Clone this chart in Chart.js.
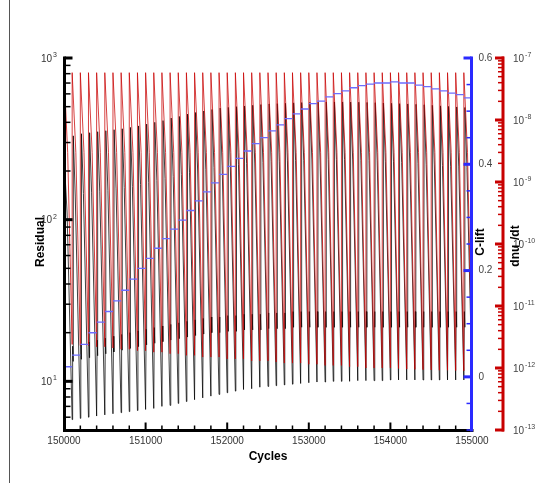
<!DOCTYPE html>
<html>
<head>
<meta charset="utf-8">
<title>Residual history</title>
<script src="https://cdn.jsdelivr.net/npm/chart.js@4.4.1/dist/chart.umd.min.js"></script>
<style>
  html, body { margin: 0; padding: 0; background: #fff; }
  #wrap { position: relative; width: 541px; height: 483px; }
</style>
</head>
<body>
<div id="wrap"><canvas id="resChart" width="541" height="483"></canvas></div>
<script>
// Start cycle of every physical time step (the last entry closes the run)
const stepCycles = [
  150000, 150100, 150200, 150300, 150400, 150500, 150600, 150700, 150800, 150900,
  151000, 151100, 151200, 151300, 151400, 151500, 151600, 151700, 151800, 151900,
  152000, 152100, 152200, 152300, 152400, 152500, 152600, 152700, 152800, 152900,
  153000, 153100, 153200, 153300, 153400, 153500, 153600, 153700, 153800, 153900,
  154000, 154100, 154200, 154300, 154400, 154500, 154600, 154700, 154800, 154900,
  155000
];

// Residual per time step: first sub-iterations, peak, end of the fast drop, final value
const resBandHi = [
  16, 16.5, 17, 17.5, 18, 18.5, 19, 19.5, 20, 20.5,
  21, 21.5, 22, 22.5, 23, 23.5, 24, 24.5, 25, 25,
  25.5, 25.5, 26, 26, 26, 26.5, 26.5, 26.5, 27, 27,
  27, 27, 27, 27, 27, 27, 27, 27, 27, 27,
  27, 27, 27, 27, 27, 27, 27, 27, 27, 27
];
const resBandLo = [
  13, 13.3, 13.7, 14, 14.4, 14.8, 15.2, 15.6, 16, 16.4,
  16.8, 17.2, 17.6, 18, 18.4, 18.8, 19.2, 19.6, 20, 20,
  20.4, 20.4, 20.8, 20.8, 20.8, 21.2, 21.2, 21.2, 21.6, 21.6,
  21.6, 21.6, 21.6, 21.6, 21.6, 21.6, 21.6, 21.6, 21.6, 21.6,
  21.6, 21.6, 21.6, 21.6, 21.6, 21.6, 21.6, 21.6, 21.6, 21.6
];
const resPeak = [
  250, 330, 340, 345, 350, 355, 360, 365, 372, 380,
  390, 400, 410, 425, 435, 450, 460, 470, 480, 490,
  495, 500, 505, 510, 515, 520, 522, 525, 528, 530,
  532, 533, 534, 535, 535, 534, 533, 531, 529, 527,
  525, 522, 520, 517, 514, 510, 506, 502, 498, 494
];
const resKnee = [
  110, 140, 145, 148, 150, 152, 155, 158, 160, 165,
  170, 175, 180, 185, 190, 195, 200, 205, 210, 215,
  218, 220, 222, 224, 226, 228, 230, 231, 232, 233,
  234, 234, 235, 235, 235, 234, 233, 232, 231, 230,
  228, 226, 224, 222, 220, 218, 216, 214, 212, 210
];
const resLow = [
  5.8, 5.9, 6.0, 6.1, 6.2, 6.3, 6.4, 6.5, 6.6, 6.7,
  6.8, 7.0, 7.1, 7.3, 7.5, 7.7, 7.9, 8.1, 8.3, 8.5,
  8.7, 8.9, 9.0, 9.2, 9.3, 9.4, 9.5, 9.6, 9.7, 9.8,
  9.9, 9.9, 10.0, 10.0, 10.0, 10.1, 10.1, 10.1, 10.1, 10.2,
  10.2, 10.2, 10.2, 10.2, 10.2, 10.2, 10.2, 10.2, 10.2, 10.2
];
// sub-iteration offsets inside a step (cycles)
const resLag = { bandHi: 6, bandLo: 11, peak: 14, knee: 38 };

// dnu~/dt per time step: top of the jump, value half way, final value
const dnuPeak = 5.8e-8;
const dnuMid = [
  3.0e-9, 3.0e-9, 3.0e-9, 3.0e-9, 3.0e-9, 3.0e-9, 3.0e-9, 3.0e-9, 3.0e-9, 3.0e-9,
  3.0e-9, 3.0e-9, 3.0e-9, 3.0e-9, 3.0e-9, 3.0e-9, 3.0e-9, 3.0e-9, 3.0e-9, 3.0e-9,
  3.0e-9, 3.0e-9, 3.0e-9, 3.0e-9, 3.0e-9, 3.0e-9, 3.0e-9, 3.0e-9, 3.0e-9, 3.0e-9,
  3.0e-9, 3.0e-9, 3.0e-9, 3.0e-9, 3.0e-9, 3.0e-9, 3.0e-9, 3.0e-9, 3.0e-9, 3.0e-9,
  3.0e-9, 3.0e-9, 3.0e-9, 3.0e-9, 3.0e-9, 3.0e-9, 3.0e-9, 3.0e-9, 3.0e-9, 3.0e-9
];
const dnuLow = [
  2.4e-12, 2.3e-12, 2.3e-12, 2.2e-12, 2.2e-12, 2.1e-12, 2.0e-12, 2.0e-12, 1.9e-12, 1.9e-12,
  1.8e-12, 1.8e-12, 1.7e-12, 1.7e-12, 1.6e-12, 1.6e-12, 1.5e-12, 1.5e-12, 1.5e-12, 1.4e-12,
  1.4e-12, 1.4e-12, 1.3e-12, 1.3e-12, 1.3e-12, 1.25e-12, 1.2e-12, 1.2e-12, 1.2e-12, 1.15e-12,
  1.15e-12, 1.1e-12, 1.1e-12, 1.1e-12, 1.05e-12, 1.05e-12, 1.0e-12, 1.0e-12, 1.0e-12, 1.0e-12,
  9.8e-13, 9.6e-13, 9.5e-13, 9.4e-13, 9.3e-13, 9.2e-13, 9.2e-13, 9.1e-13, 9.0e-13, 9.0e-13
];
const dnuLag = 45;

// Lift coefficient held over each time step
const cLift = [
  0.019, 0.041, 0.061, 0.083, 0.103, 0.123, 0.143, 0.163, 0.184, 0.204,
  0.223, 0.242, 0.260, 0.278, 0.295, 0.313, 0.331, 0.348, 0.365, 0.381,
  0.396, 0.411, 0.425, 0.439, 0.450, 0.463, 0.474, 0.486, 0.495, 0.504,
  0.514, 0.519, 0.527, 0.533, 0.538, 0.544, 0.548, 0.551, 0.553, 0.553,
  0.555, 0.553, 0.553, 0.549, 0.546, 0.542, 0.538, 0.534, 0.531, 0.525
];

// axis ticks
const cycleLabels = [150000, 151000, 152000, 153000, 154000, 155000];
const liftLabels = [0, 0.2, 0.4, 0.6];
const resDecades = [1, 2, 3];
const dnuDecades = [-13, -12, -11, -10, -9, -8, -7];

const FONT = '"Liberation Sans", Arial, Helvetica, sans-serif';
const RED = '#c80000';
const BLUE = '#2a2aff';

// build the saw-tooth series from the per-step values
const resPoints = [];
const dnuPoints = [];
const liftPoints = [];
for (let k = 0; k < cLift.length; k++) {
  const s = stepCycles[k];
  const e = stepCycles[k + 1];
  if (k > 0) {
    resPoints.push({ x: s + resLag.bandHi, y: resBandHi[k] });
    resPoints.push({ x: s + resLag.bandLo, y: resBandLo[k] });
    resPoints.push({ x: s + resLag.peak, y: resPeak[k] });
  } else {
    resPoints.push({ x: s, y: resPeak[k] });
  }
  resPoints.push({ x: s + resLag.knee, y: resKnee[k] });
  resPoints.push({ x: e, y: resLow[k] });

  dnuPoints.push({ x: s, y: dnuPeak });
  dnuPoints.push({ x: s + dnuLag, y: dnuMid[k] });
  dnuPoints.push({ x: e, y: dnuLow[k] });

  // one flat dash per step
  liftPoints.push({ x: s, y: cLift[k] });
  liftPoints.push({ x: e, y: cLift[k] });
  liftPoints.push({ x: e, y: null });
}

function line(ctx, x1, y1, x2, y2, color, width) {
  ctx.strokeStyle = color;
  ctx.lineWidth = width;
  ctx.beginPath();
  ctx.moveTo(x1, y1);
  ctx.lineTo(x2, y2);
  ctx.stroke();
}

// "10" with a raised exponent
function powLabel(ctx, exp, x, y, align) {
  ctx.font = '10px ' + FONT;
  const wb = ctx.measureText('10').width;
  ctx.font = '7px ' + FONT;
  const ws = ctx.measureText(String(exp)).width;
  const x0 = align === 'right' ? x - wb - ws - 1 : x;
  ctx.textAlign = 'left';
  ctx.textBaseline = 'middle';
  ctx.font = '10px ' + FONT;
  ctx.fillText('10', x0, y + 1);
  ctx.font = '7px ' + FONT;
  ctx.fillText(String(exp), x0 + wb + 1, y - 3);
}

// Tecplot style axes: thick spines, inward ticks, three y axes
const axisDecor = {
  id: 'axisDecor',
  afterDraw(chart) {
    const ctx = chart.ctx;
    const xs = chart.scales.x;
    const yr = chart.scales.yRes;
    const yl = chart.scales.yLift;
    const yd = chart.scales.yDnu;
    const { top, bottom, left, right } = chart.chartArea;
    ctx.save();
    ctx.lineCap = 'butt';

    // outer frame
    line(ctx, 9.5, 0, 9.5, 483, '#555', 1);

    // residual axis (left)
    const xl = left + 0.5;
    for (let d = 0; d <= 2; d++) {
      for (let m = 2; m <= 9; m++) {
        const v = m * Math.pow(10, d);
        if (v < 5 || v > 1000) continue;
        const y = yr.getPixelForValue(v);
        line(ctx, xl, y, xl + 6, y, '#000', 1.5);
      }
    }
    resDecades.forEach(d => {
      const y = yr.getPixelForValue(Math.pow(10, d));
      line(ctx, xl, y, xl + 8, y, '#000', 3);
    });
    line(ctx, xl, top - 1.5, xl, bottom + 1.5, '#000', 3);
    ctx.fillStyle = '#333';
    resDecades.forEach(d => powLabel(ctx, d, 57, yr.getPixelForValue(Math.pow(10, d)), 'right'));

    // cycles axis (bottom)
    const yb = bottom + 0.5;
    for (let c = 150000; c <= 155000; c += 200) {
      const x = xs.getPixelForValue(c);
      const major = c % 1000 === 0;
      line(ctx, x, yb, x, yb - (major ? 8 : 5), '#000', major ? 2 : 1.5);
    }
    line(ctx, xl - 1.5, yb, right + 1.5, yb, '#000', 3);
    ctx.fillStyle = '#333';
    ctx.font = '10px ' + FONT;
    ctx.textAlign = 'center';
    ctx.textBaseline = 'middle';
    cycleLabels.forEach(c => ctx.fillText(String(c), xs.getPixelForValue(c), bottom + 11));

    // lift axis (first right)
    const xr = right - 0.5;
    for (let i = -2; i <= 12; i++) {
      const v = i * 0.05;
      const y = yl.getPixelForValue(v);
      const major = i % 4 === 0;
      line(ctx, xr, y, xr - (major ? 8 : 5), y, BLUE, major ? 3 : 1.5);
    }
    line(ctx, xr, top - 1.5, xr, bottom + 1.5, BLUE, 3);
    ctx.fillStyle = '#444';
    ctx.font = '10px ' + FONT;
    ctx.textAlign = 'left';
    ctx.textBaseline = 'middle';
    liftLabels.forEach(v => ctx.fillText(String(v), xr + 7, yl.getPixelForValue(v)));

    // dnu axis (outer right)
    const xd = right + 31;
    for (let d = -13; d < -7; d++) {
      for (let m = 2; m <= 9; m++) {
        const y = yd.getPixelForValue(m * Math.pow(10, d));
        line(ctx, xd, y, xd - 5, y, RED, 1.5);
      }
    }
    dnuDecades.forEach(d => {
      const y = yd.getPixelForValue(Math.pow(10, d));
      line(ctx, xd + 1, y, xd - 8, y, RED, 3);
    });
    line(ctx, xd, top - 1.5, xd, bottom + 1.5, RED, 3);
    ctx.fillStyle = '#444';
    dnuDecades.forEach(d => powLabel(ctx, d, xd + 10, yd.getPixelForValue(Math.pow(10, d)), 'left'));

    // axis titles
    ctx.fillStyle = '#000';
    ctx.font = 'bold 12px ' + FONT;
    ctx.textAlign = 'center';
    ctx.textBaseline = 'middle';
    ctx.fillText('Cycles', (left + right) / 2, bottom + 27);

    ctx.save();
    ctx.translate(41, (top + bottom) / 2 - 2);
    ctx.rotate(-Math.PI / 2);
    ctx.fillText('Residual', 0, 0);
    ctx.restore();

    ctx.save();
    ctx.translate(481, 242);
    ctx.rotate(-Math.PI / 2);
    ctx.fillText('C-lift', 0, 0);
    ctx.restore();

    ctx.save();
    ctx.translate(516, 246);
    ctx.rotate(-Math.PI / 2);
    ctx.textAlign = 'left';
    ctx.font = 'bold 12px ' + FONT;
    const w1 = ctx.measureText('dnu').width;
    ctx.font = 'bold 8px ' + FONT;
    const w2 = ctx.measureText('~').width;
    ctx.font = 'bold 12px ' + FONT;
    const w3 = ctx.measureText('/dt').width;
    const x0 = -(w1 + w2 + w3) / 2;
    ctx.fillText('dnu', x0, 0);
    ctx.font = 'bold 8px ' + FONT;
    ctx.fillText('~', x0 + w1, 4);
    ctx.font = 'bold 12px ' + FONT;
    ctx.fillText('/dt', x0 + w1 + w2, 0);
    ctx.restore();

    ctx.restore();
  }
};

new Chart(document.getElementById('resChart'), {
  type: 'line',
  data: {
    datasets: [
      {
        label: 'C-lift',
        data: liftPoints,
        yAxisID: 'yLift',
        borderColor: '#6c6cff',
        borderWidth: 1.3,
        pointRadius: 0,
        spanGaps: false,
        order: 0
      },
      {
        label: 'dnu~/dt',
        data: dnuPoints,
        yAxisID: 'yDnu',
        borderColor: RED,
        borderWidth: 0.75,
        pointRadius: 0,
        order: 1
      },
      {
        label: 'Residual',
        data: resPoints,
        yAxisID: 'yRes',
        borderColor: '#000',
        borderWidth: 0.75,
        pointRadius: 0,
        order: 2
      }
    ]
  },
  options: {
    responsive: false,
    animation: false,
    devicePixelRatio: 1,
    layout: { padding: { left: 64, top: 58, right: 69, bottom: 53 } },
    plugins: { legend: { display: false }, tooltip: { enabled: false } },
    scales: {
      x: { type: 'linear', min: 150000, max: 155000, display: false },
      yRes: { type: 'logarithmic', min: 5, max: 1000, display: false },
      yLift: { type: 'linear', min: -0.1, max: 0.6, display: false },
      yDnu: { type: 'logarithmic', min: 1e-13, max: 1e-7, display: false }
    }
  },
  plugins: [axisDecor]
});
</script>
</body>
</html>
